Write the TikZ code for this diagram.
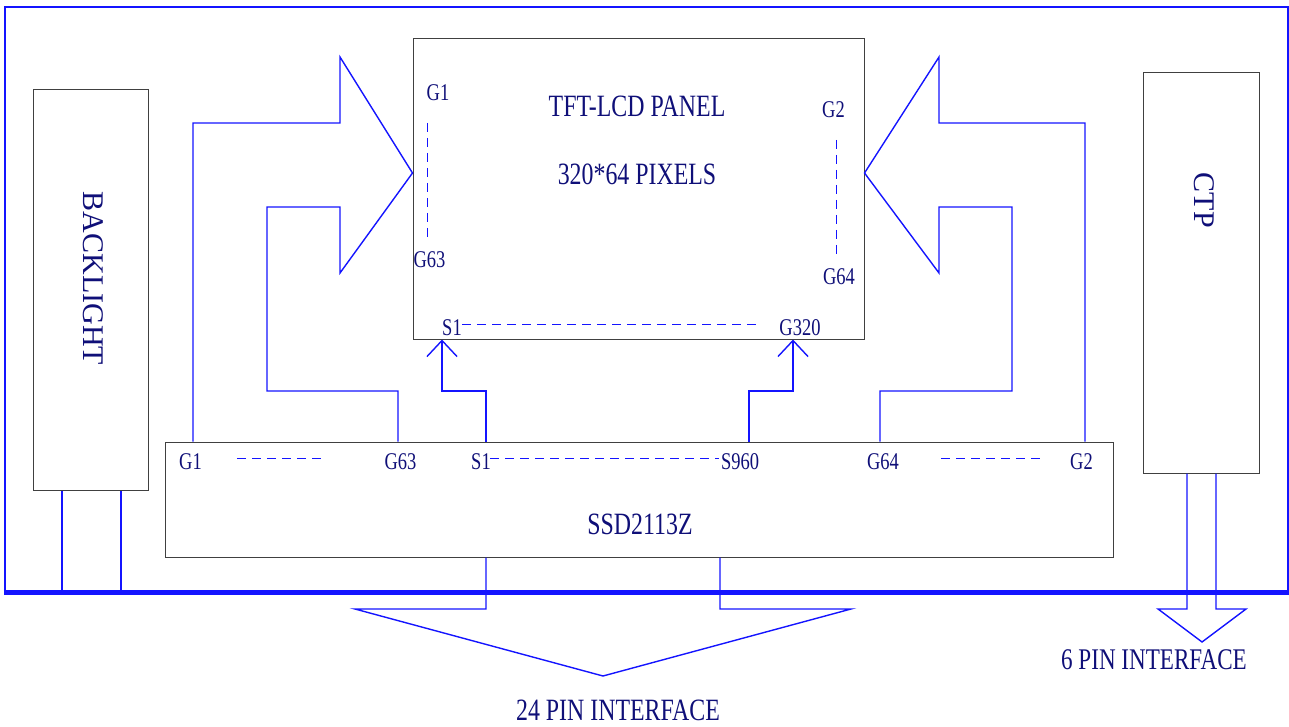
\documentclass[tikz,border=0pt]{standalone}
\usepackage{fontspec}
\setmainfont{Liberation Serif}
\newfontfamily\narrowfont{Liberation Serif}[FakeStretch=0.77]
\usetikzlibrary{positioning,arrows.meta}
\definecolor{lineblue}{RGB}{20,20,255}
\definecolor{textnavy}{RGB}{15,15,120}

\begin{document}
\begin{tikzpicture}[x=1pt,y=-1pt,
  box/.style={draw=black!75,line width=1pt,inner sep=0pt},
  frm/.style={draw=lineblue,line width=2.5pt,inner sep=0pt},
  wire/.style={draw=lineblue,line width=1.4pt,line join=miter},
  ar/.style={wire,-{Straight Barb[length=16pt,width=30pt]}},
  dsh/.style={draw=lineblue,line width=1pt,dash pattern=on 9pt off 6pt},
  big/.style={text=textnavy,inner sep=0pt,font=\narrowfont\fontsize{31}{31}\selectfont},
  vert/.style={text=textnavy,inner sep=0pt,rotate=-90,font=\fontsize{30}{30}\selectfont},
  pin/.style={text=textnavy,inner sep=0pt,font=\narrowfont\fontsize{24}{24}\selectfont}
]
\useasboundingbox (0,0) rectangle (1289,727);
% outer module frame
\node[frm,minimum width=1283pt,minimum height=584pt] (frame) at (646.5,299) {};
\draw[lineblue,line width=4.5pt] (frame.south west) -- (frame.south east);
% blocks
\node[box,minimum width=451pt,minimum height=300pt] (panel) at (638.5,189) {};
\node[box,minimum width=948pt,minimum height=115pt] (drv)   at (639,499.5) {};
\node[box,minimum width=115pt,minimum height=400pt] (bl)    at (90.5,290) {};
\node[box,minimum width=116pt,minimum height=400pt] (ctp)   at (1201,273) {};
% texts
\node[big] (ttl) at (637,106) {TFT-LCD PANEL};
\node[big] (pix) at (637,174) {320*64 PIXELS};
\node[big] (ic)  at (640,524) {SSD2113Z};
\node[vert] (blt) at (93.5,278.5) {BACKLIGHT};
\node[vert] (ctpt) at (1204.5,200.5) {CTP};
\node[big] (p24) at (618,710) {24 PIN INTERFACE};
\node[big,font=\narrowfont\fontsize{30}{30}\selectfont] (p6) at (1154,660) {6 PIN INTERFACE};
% panel pins
\node[pin] (pG1)   at (438,93)    {G1};
\node[pin] (pG63)  at (429.5,260) {G63};
\node[pin] (pG2)   at (833.5,110) {G2};
\node[pin] (pG64)  at (839,277)   {G64};
\node[pin] (pS1)   at (452,328)   {S1};
\node[pin] (pG320) at (800,328)   {G320};
% driver pins
\node[pin] (dG1)   at (190.5,462) {G1};
\node[pin] (dG63)  at (400.5,462) {G63};
\node[pin] (dS1)   at (481,462)   {S1};
\node[pin] (dS960) at (740,462)   {S960};
\node[pin] (dG64)  at (883,462)   {G64};
\node[pin] (dG2)   at (1081.5,462) {G2};
% dashed pin rows
\draw[dsh] (427,123) -- (427,239);
\draw[dsh] (836,140) -- (836,257);
\draw[dsh] (462,324) -- (758,324);
\draw[dsh] (237,458) -- (323,458);
\draw[dsh] (490,458) -- (719,458);
\draw[dsh] (941,458) -- (1042,458);
% gate buses
\draw[wire] (193,0 |- drv.north) -- (193,123) -- (340,123) -- (340,57) -- (panel.west |- 0,173)
  -- (340,273) -- (340,207) -- (267,207) -- (267,391) -- (398,391) -- (398,0 |- drv.north);
\draw[wire] (1085,0 |- drv.north) -- (1085,123) -- (939,123) -- (939,57) -- (panel.east |- 0,173)
  -- (939,273) -- (939,207) -- (1012,207) -- (1012,391) -- (880,391) -- (880,0 |- drv.north);
% source lines
\draw[ar] (486,0 |- drv.north) -- (486,391) -| (442,0 |- panel.south);
\draw[ar] (749,0 |- drv.north) -- (749,391) -| (793,0 |- panel.south);
% interfaces
\draw[wire] (486,0 |- drv.south) -- (486,609) -- (355,609) -- (603,676) -- (851,609) -- (720,609) -- (720,0 |- drv.south);
\draw[wire] (1187,0 |- ctp.south) -- (1187,609) -- (1158,609) -- (1202,642) -- (1246,609) -- (1216,609) -- (1216,0 |- ctp.south);
\draw[wire] (62,0 |- bl.south) -- (62,0 |- frame.south);
\draw[wire] (121,0 |- bl.south) -- (121,0 |- frame.south);
\end{tikzpicture}
\end{document}
